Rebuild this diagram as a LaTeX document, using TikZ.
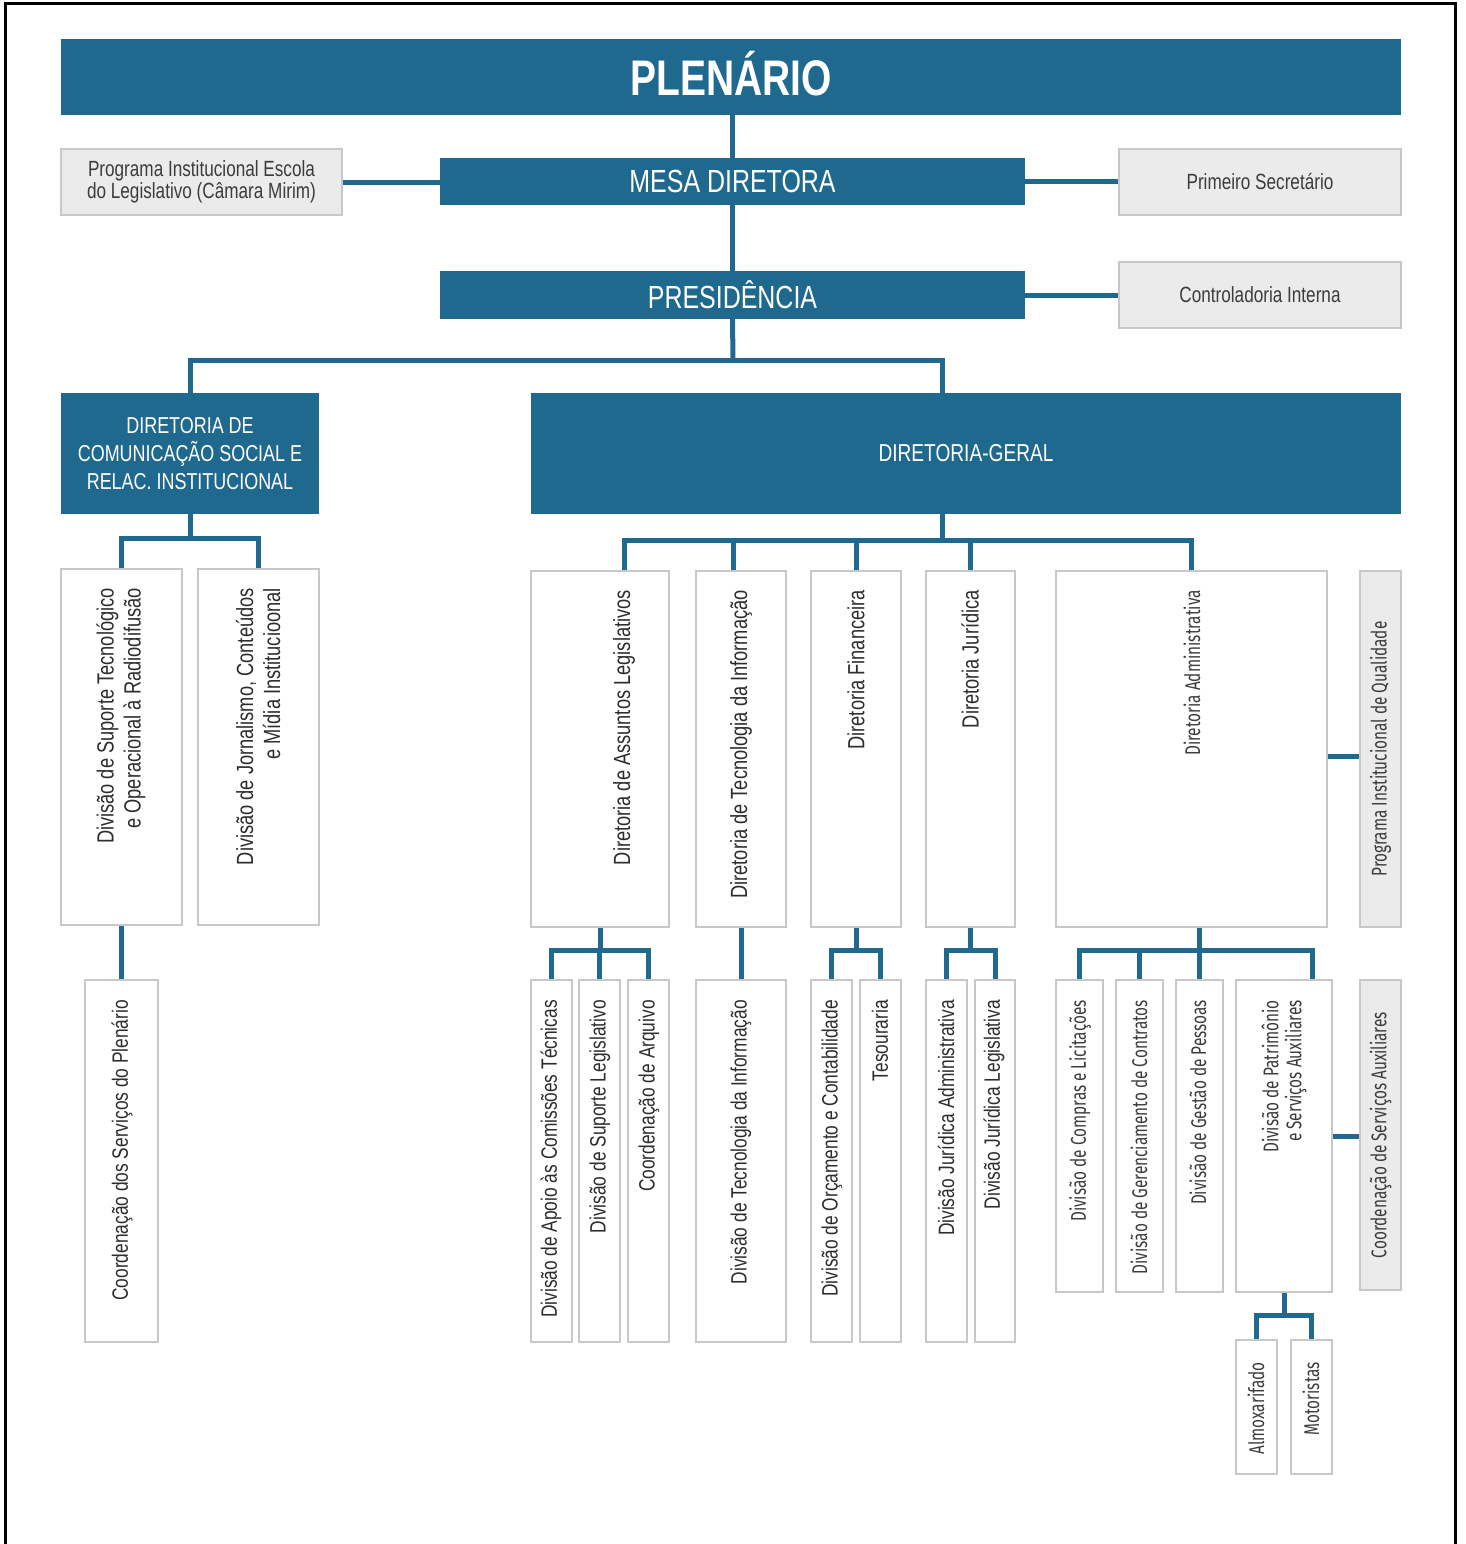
\documentclass[tikz,border=0pt]{standalone}
\usepackage{fontspec}
\setmainfont{Liberation Sans}[FakeStretch=0.78]
\newfontfamily\lite{Fira Sans}[FakeStretch=0.72]
\usetikzlibrary{calc}
\definecolor{bl}{RGB}{32,105,142}
\definecolor{bd}{RGB}{200,200,200}
\definecolor{gf}{RGB}{235,235,235}
\definecolor{tx}{RGB}{45,45,45}
\definecolor{gt}{RGB}{60,60,60}
\newcommand\obox[7]{\node[#6, minimum width={(#4-#2)*1pt}, minimum height={(#5-#3)*1pt}] (#1) at ({(#2+#4)/2},{(#3+#5)/2}) {#7};}
\tikzset{
  hdr/.style={fill=bl, draw=none, inner sep=0, text=white, align=center},
  wbox/.style={draw=bd, line width=1.5pt, fill=white, inner sep=0},
  gbox/.style={draw=bd, line width=1.5pt, fill=gf, inner sep=0, text=gt, align=center},
  conn/.style={draw=bl, line width=5pt},
  vt/.style={rotate=90, anchor=east, inner sep=0, text=tx, align=right, font=\fontsize{23.4}{27}\selectfont},
  vb/.style={rotate=90, anchor=east, inner sep=0, text=tx, align=right, font=\fontsize{22.2}{26}\selectfont},
  vl/.style={rotate=90, anchor=east, inner sep=0, text=gt, align=right, font=\lite\fontsize{21.3}{23}\selectfont},
  vc/.style={rotate=90, inner sep=0, text=gt, font=\lite\fontsize{21.3}{23}\selectfont}
}
\begin{document}
\begin{tikzpicture}[x=1pt,y=-1pt]
\useasboundingbox (0,0) rectangle (1465,1544);
\draw[line width=3pt] (5,1544) -- (5,4) -- (1455,4) -- (1455,1544);

% top level
\obox{plen}{61}{39}{1401}{115}{hdr}{}
\node[text=white, font=\bfseries\fontsize{50}{50}\selectfont, inner sep=0] (t-plen) at ([yshift=3pt]plen.center) {PLENÁRIO};
\obox{prog}{61}{149}{342}{215}{gbox, font=\fontsize{22}{22}\selectfont}{Programa Institucional Escola\\do Legislativo (Câmara Mirim)}
\obox{mesa}{440}{158}{1025}{205}{hdr, font=\fontsize{32}{32}\selectfont}{MESA DIRETORA}
\obox{prim}{1119}{149}{1401}{215}{gbox, font=\fontsize{22}{22}\selectfont}{Primeiro Secretário}
\obox{pres}{440}{271}{1025}{319}{hdr, font=\fontsize{32}{32}\selectfont}{PRESIDÊNCIA}
\obox{ctrl}{1119}{262}{1401}{328}{gbox, font=\fontsize{22}{22}\selectfont}{Controladoria Interna}
\obox{dcom}{61}{393}{319}{514}{hdr, font=\fontsize{23}{28}\selectfont}{DIRETORIA DE\\COMUNICAÇÃO SOCIAL E\\RELAC. INSTITUCIONAL}
\obox{dg}{531}{393}{1401}{514}{hdr, font=\fontsize{24.5}{28}\selectfont}{DIRETORIA-GERAL}

% second level boxes
\obox{dsup}{61}{569}{182}{925}{wbox}{}
\obox{djor}{198}{569}{319}{925}{wbox}{}
\obox{cpl}{85}{980}{158}{1342}{wbox}{}
\obox{dass}{531}{571}{669}{927}{wbox}{}
\obox{dti}{696}{571}{786}{927}{wbox}{}
\obox{dfin}{811}{571}{901}{927}{wbox}{}
\obox{djur}{926}{571}{1015}{927}{wbox}{}
\obox{dadm}{1056}{571}{1327}{927}{wbox}{}
\obox{pq}{1360}{571}{1401}{927}{gbox}{}

% third level boxes
\obox{apoio}{531}{980}{572}{1342}{wbox}{}
\obox{suleg}{579}{980}{620}{1342}{wbox}{}
\obox{arq}{628}{980}{669}{1342}{wbox}{}
\obox{divti}{696}{980}{786}{1342}{wbox}{}
\obox{orc}{811}{980}{852}{1342}{wbox}{}
\obox{tes}{860}{980}{901}{1342}{wbox}{}
\obox{jadm}{926}{980}{967}{1342}{wbox}{}
\obox{jleg}{975}{980}{1015}{1342}{wbox}{}
\obox{comp}{1056}{980}{1103}{1292}{wbox}{}
\obox{ger}{1116}{980}{1163}{1292}{wbox}{}
\obox{pes}{1176}{980}{1223}{1292}{wbox}{}
\obox{pat}{1236}{980}{1332}{1292}{wbox}{}
\obox{csa}{1360}{980}{1401}{1290}{gbox}{}
\obox{alm}{1236}{1340}{1277}{1474}{wbox}{}
\obox{mot}{1291}{1340}{1332}{1474}{wbox}{}

% connectors
\draw[conn] (mesa.north) -- (mesa.north |- plen.south);
\draw[conn] (prog.east) -- (prog.east -| mesa.west);
\draw[conn] (mesa.east) -- (mesa.east -| prim.west);
\draw[conn] (pres.north) -- (mesa.south);
\draw[conn] (pres.east) -- (pres.east -| ctrl.west);
\coordinate (b1) at (733,360);
\draw[conn] (pres.south) -- (b1);
\draw[conn] (dcom.north) |- (b1) -| ([xshift=-24pt]dg.north);
\coordinate (b2) at (190,538);
\draw[conn] (dcom.south) -- (b2);
\draw[conn] (dsup.north) |- (b2) -| (djor.north);
\draw[conn] (dsup.south) -- (cpl.north);
\coordinate (b3) at (942,540);
\draw[conn] ([xshift=-24pt]dg.south) -- (b3);
\draw[conn] ([xshift=24pt]dass.north) |- (b3) -| (dadm.north);
\draw[conn] ([xshift=-8pt]dti.north) |- (b3);
\draw[conn] (dfin.north) |- (b3);
\draw[conn] (djur.north) |- (b3);
\coordinate (b4) at (600,950);
\draw[conn] (dass.south) -- (b4);
\draw[conn] (apoio.north) |- (b4) -| (arq.north);
\draw[conn] (suleg.north) |- (b4);
\draw[conn] (dti.south -| divti.north) -- (divti.north);
\coordinate (b5) at (856,950);
\draw[conn] (dfin.south) -- (b5);
\draw[conn] (orc.north) |- (b5) -| (tes.north);
\coordinate (b6) at (970.5,950);
\draw[conn] (djur.south) -- (b6);
\draw[conn] (jadm.north) |- (b6) -| (jleg.north);
\coordinate (b7) at (1199,950);
\draw[conn] ([xshift=7.5pt]dadm.south) -- (b7);
\draw[conn] (comp.north) |- (b7) -| ([xshift=28pt]pat.north);
\draw[conn] (ger.north) |- (b7);
\draw[conn] (pes.north) |- (b7);
\draw[conn] ([yshift=-7pt]dadm.east) -- ([yshift=-7pt]pq.west);
\draw[conn] (pat.east) -- (pat.east -| csa.west);
\coordinate (b8) at (1284,1315);
\draw[conn] (pat.south) -- (b8);
\draw[conn] (alm.north) |- (b8) -| (mot.north);

% texts
\node[vt] (t-dsup) at (121,588) {Divisão de Suporte Tecnológico\\e Operacional à Radiodifusão};
\node[vt] (t-djor) at (258,588) {Divisão de Jornalismo, Conteúdos\\e Mídia Institucioonal};
\node[vb] (t-cpl) at (122,1000) {Coordenação dos Serviços do Plenário};
\node[vt] (t-dass) at (624,590) {Diretoria de Assuntos Legislativos};
\node[vt] (t-dti) at (741,590) {Diretoria de Tecnologia da Informação};
\node[vt] (t-dfin) at (856,590) {Diretoria Financeira};
\node[vt] (t-djur) at (970,590) {Diretoria Jurídica};
\node[vl] (t-dadm) at (1192,590) {Diretoria Administrativa};
\node[vc] (t-pq) at (pq.center) {Programa Institucional de Qualidade};
\node[vb] (t-apoio) at (551,1000) {Divisão de Apoio às Comissões Técnicas};
\node[vb] (t-suleg) at (600,1000) {Divisão de Suporte Legislativo};
\node[vb] (t-arq) at (649,1000) {Coordenação de Arquivo};
\node[vb] (t-divti) at (741,1000) {Divisão de Tecnologia da Informação};
\node[vb] (t-orc) at (832,1000) {Divisão de Orçamento e Contabilidade};
\node[vb] (t-tes) at (880,1000) {Tesouraria};
\node[vb] (t-jadm) at (946,1000) {Divisão Jurídica Administrativa};
\node[vb] (t-jleg) at (994,1000) {Divisão Jurídica Legislativa};
\node[vl] (t-comp) at (1080,1000) {Divisão de Compras e Licitações};
\node[vl] (t-ger) at (1139,1000) {Divisão de Gerenciamento de Contratos};
\node[vl] (t-pes) at (1198,1000) {Divisão de Gestão de Pessoas};
\node[vl] (t-pat) at (1284,1000) {Divisão de Patrimônio\\e Serviços Auxiliares};
\node[vc] (t-csa) at (csa.center) {Coordenação de Serviços Auxiliares};
\node[vl] (t-alm) at (1256,1362) {Almoxarifado};
\node[vl] (t-mot) at (1311,1362) {Motoristas};
\end{tikzpicture}
\end{document}
